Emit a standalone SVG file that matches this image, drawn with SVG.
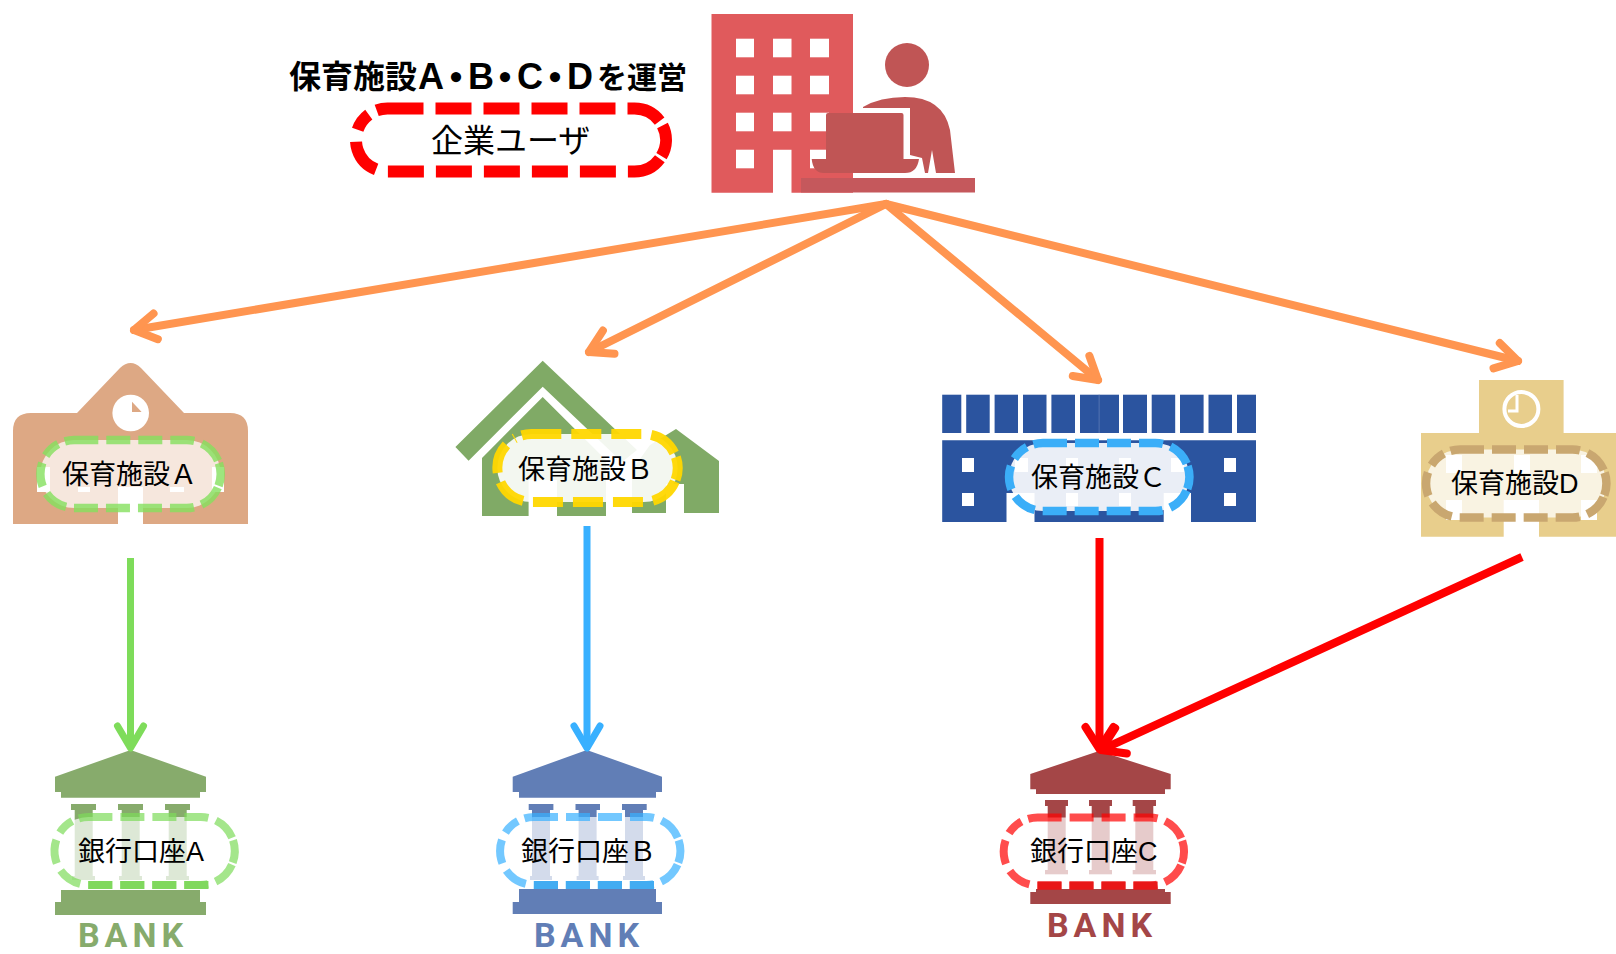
<svg xmlns="http://www.w3.org/2000/svg" width="1616" height="954" viewBox="0 0 1616 954">
<style>
text{font-family:"Liberation Sans","Noto Sans CJK JP",sans-serif;fill:#000}
.t{font-size:27px}
.u{font-size:32px}
.h{font-weight:700;font-size:32px}
.l{font-size:36px}
.d{font-size:24px;stroke:#000;stroke-width:4}
.bk{font-family:Roboto,"Liberation Sans",sans-serif;font-size:34px;font-weight:700;letter-spacing:5px;text-anchor:middle}
.pl{stroke-width:8.5;stroke-dasharray:24 8}
.w{fill:#fff}
.c{fill:none;stroke-linejoin:round}
.o{stroke:#FF9550;stroke-width:8;stroke-linecap:round}
.dk{fill:none;stroke-width:8;stroke-dasharray:24 8}
</style>
<defs>
<marker id="mo" markerUnits="userSpaceOnUse" markerWidth="50" markerHeight="50" viewBox="-35 -25 50 50" refX="0" refY="0" orient="auto"><path d="M-22,-13L0,0L-22,13" fill="none" stroke="#FF9550" stroke-width="8" stroke-linecap="round" stroke-linejoin="round"/></marker>
<marker id="mg" markerUnits="userSpaceOnUse" markerWidth="50" markerHeight="50" viewBox="-35 -25 50 50" refX="0" refY="0" orient="auto"><path d="M-22,-13L0,0L-22,13" fill="none" stroke="#7EDC5A" stroke-width="7" stroke-linecap="round" stroke-linejoin="round"/></marker>
<marker id="mb" markerUnits="userSpaceOnUse" markerWidth="50" markerHeight="50" viewBox="-35 -25 50 50" refX="0" refY="0" orient="auto"><path d="M-22,-13L0,0L-22,13" fill="none" stroke="#38B0FF" stroke-width="7" stroke-linecap="round" stroke-linejoin="round"/></marker>
<marker id="mr" markerUnits="userSpaceOnUse" markerWidth="50" markerHeight="50" viewBox="-35 -25 50 50" refX="0" refY="0" orient="auto"><path d="M-22,-14L0,0L-22,14" fill="none" stroke="#FF0000" stroke-width="8" stroke-linecap="round" stroke-linejoin="round"/></marker>
<g id="pill">
<rect width="180.4" height="68" rx="34" stroke="none"/>
<path fill="none" d="M34,0H146.4A34,34 0 0 1 177.75,20.85M178.64,23.2A34,34 0 0 1 178.3,45.7M177.55,47.6A34,34 0 0 1 146.4,68H34A34,34 0 0 1 17.9,4.1M24.5,1.35A34,34 0 0 1 34,0"/>
</g>
</defs>

<g id="user">
<path fill="#E05A5C" d="M711.5,14H853V192.7H791.5V149.7H773V192.7H711.5Z"/>
<g class="w">
<rect x="736" y="38.7" width="18" height="18.6"/><rect x="773" y="38.7" width="18.5" height="18.6"/><rect x="810" y="38.7" width="19" height="18.6"/>
<rect x="736" y="75.7" width="18" height="18.6"/><rect x="773" y="75.7" width="18.5" height="18.6"/><rect x="810" y="75.7" width="19" height="18.6"/>
<rect x="736" y="112.7" width="18" height="18.6"/><rect x="773" y="112.7" width="18.5" height="18.6"/><rect x="810" y="112.7" width="19" height="18.6"/>
<rect x="736" y="149.7" width="18" height="18.6"/><rect x="810" y="149.7" width="19" height="18.6"/>
</g>
<g fill="#C05555">
<ellipse cx="907" cy="65" rx="22" ry="22"/>
<path d="M863,107Q880,97 905,97Q943,97 950,130L955,173H936L932,150L928,173H925L922,158L910,155V108H863Z"/>
<path d="M828,113H901.5Q903.5,113 903.5,115V159H919Q917,173 905,173H824Q813,173 811.7,159H826V115Q826,113 828,113Z"/>
<rect x="801" y="178" width="174" height="14.5" fill="#C5585C"/>
</g>
<text class="h" y="88"><tspan x="289">保育施設</tspan><tspan class="l" x="418" y="89">A</tspan><tspan class="d" x="444" y="85.7">・</tspan><tspan class="l" x="468" y="89">B</tspan><tspan class="d" x="493" y="85.7">・</tspan><tspan class="l" x="517" y="89">C</tspan><tspan class="d" x="543" y="85.7">・</tspan><tspan class="l" x="567" y="89">D</tspan><tspan x="597" y="88" style="font-size:30px">を運営</tspan></text>
<path fill="none" stroke="#FF0000" stroke-width="12" stroke-dasharray="36 12" transform="translate(356,108.5)" d="M31.5,0H278.5A31.5,31.5 0 0 1 304.2,13.3M306.5,17.1A31.5,31.5 0 0 1 305.5,47.7M303.85,50.2A31.5,31.5 0 0 1 278.5,63H31.5A31.5,31.5 0 0 1 12.8,6.15M20.7,1.9A31.5,31.5 0 0 1 31.5,0"/>
<text class="u" x="431" y="152">企業ユーザ</text>
</g>

<g id="facility-a">
<path fill="#DDA884" d="M13,524V431Q13,413 31,413H77L120,368Q130.7,358 141,368L184,413H230Q248,413 248,431V524H143V487H118V524Z"/>
<circle class="w" cx="130.7" cy="413" r="18.3"/>
<path fill="#DDA884" d="M132,401.7L141.6,412H132Z"/>
<g class="w"><rect x="37" y="467" width="13" height="25"/><rect x="78" y="487" width="12" height="5"/><rect x="170" y="487" width="14" height="5"/><rect x="212" y="467" width="12" height="25"/></g>
<use href="#pill" class="pl" x="40.3" y="440" fill="#fff" fill-opacity=".72" stroke="#84E05E" stroke-opacity=".8"/>
<text class="t" x="62" y="484">保育施設Ａ</text>
</g>

<g id="facility-b">
<path fill="#80AA66" d="M542.7,360.7L637,450L622,462L542.7,386.7L468.6,460.7L455.4,447Z"/>
<path fill="#80AA66" d="M482,458L542.7,397L606,460V516H557V480H528.6V516H482Z"/>
<path fill="#80AA66" d="M676,429L719,461V513H684V484H666V513H632V470L650,445Z"/>
<use href="#pill" x="497.3" y="434" fill="#fff" fill-opacity=".9" stroke="#FFD700" stroke-opacity=".95" stroke-width="10" stroke-dasharray="30 10"/>
<text class="t" x="518" y="479">保育施設Ｂ</text>
</g>

<g id="facility-c">
<g fill="#2B549F">
<rect x="942.2" y="394.7" width="19.1" height="38.3"/><rect x="966.2" y="394.7" width="23.5" height="38.3"/><rect x="994.6" y="394.7" width="23.4" height="38.3"/><rect x="1023" y="394.7" width="23.5" height="38.3"/><rect x="1051.4" y="394.7" width="23.6" height="38.3"/><rect x="1080" y="394.7" width="39" height="38.3"/><rect x="1123" y="394.7" width="24" height="38.3"/><rect x="1151.7" y="394.7" width="23.5" height="38.3"/><rect x="1180" y="394.7" width="23.6" height="38.3"/><rect x="1208.5" y="394.7" width="23.5" height="38.3"/><rect x="1237" y="394.7" width="19" height="38.3"/>
<path d="M942.2,440.3H1256V522H1191V493H1163.7V522H1034.5V493H1006.5V522H942.2Z"/>
</g>
<rect x="1098.7" y="394.7" width=".8" height="38.3" fill="#5C7BB5"/>
<g class="w">
<rect x="962" y="458" width="12" height="14"/><rect x="962" y="493" width="12" height="13"/><rect x="1224" y="458" width="12" height="14"/><rect x="1224" y="493" width="12" height="13"/>
<rect x="1015" y="458" width="13" height="14"/><rect x="1066" y="458" width="12" height="14"/><rect x="1119" y="458" width="12" height="14"/><rect x="1171" y="458" width="13" height="14"/>
<rect x="1015" y="493" width="13" height="13"/><rect x="1066" y="493" width="12" height="13"/><rect x="1119" y="493" width="12" height="13"/><rect x="1171" y="493" width="13" height="13"/>
</g>
<use href="#pill" class="pl" x="1009" y="443" fill="#fff" fill-opacity=".9" stroke="#3BAEF8"/>
<text class="t" x="1031" y="487">保育施設Ｃ</text>
</g>

<g id="facility-d">
<path fill="#E8CE8C" d="M1479,380H1563.6V433H1616V536.7H1539V500H1503.7V536.7H1421V433H1479Z"/>
<circle cx="1521.4" cy="409" r="17" fill="none" stroke="#fff" stroke-width="4"/>
<path d="M1517,395V411H1508" fill="none" stroke="#fff" stroke-width="3"/>
<g class="w">
<rect x="1446" y="455" width="16" height="18"/><rect x="1514" y="455" width="16" height="18"/><rect x="1581" y="455" width="16" height="18"/>
<rect x="1446" y="500" width="16" height="20"/><rect x="1581" y="500" width="16" height="20"/>
</g>
<use href="#pill" class="pl" x="1426" y="449.5" fill="#fff" fill-opacity=".75" stroke="#C9A770"/>
<text class="t" x="1451" y="493">保育施設D</text>
</g>

<g id="bank-a" fill="#87AB6C">
<path d="M130.6,750L206,776.7V792H200V797.7H61V792H55V776.7Z"/>
<rect x="71" y="804" width="25" height="6"/><rect x="118" y="804" width="25" height="6"/><rect x="165" y="804" width="25" height="6"/>
<rect x="74.7" y="810" width="18" height="66"/><rect x="121.7" y="810" width="18" height="66"/><rect x="168.7" y="810" width="18" height="66"/>
<rect x="72" y="876" width="23" height="4"/><rect x="119" y="876" width="23" height="4"/><rect x="166" y="876" width="23" height="4"/>
<path d="M61,890H200V902H206V915H55V902H61Z"/>
<text class="bk" x="133" y="946.5" style="fill:#87AB6C">BANK</text>
<use href="#pill" class="pl" x="54.4" y="817" fill="#fff" fill-opacity=".72" stroke="#7EDC5A" stroke-opacity=".7" style="stroke-width:8"/>
<path class="dk" stroke="#80D85E" d="M88.4,885H208.4"/>
<text class="t" x="78" y="861">銀行口座A</text>
</g>

<g id="bank-b" fill="#617EB6">
<path d="M586.8,750L662,776.7V792H656V797.7H519V792H512.7V776.7Z"/>
<rect x="528.7" y="804" width="24.7" height="6"/><rect x="575.5" y="804" width="24.5" height="6"/><rect x="622" y="804" width="24.7" height="6"/>
<rect x="532" y="810" width="18" height="66"/><rect x="578.6" y="810" width="18" height="66"/><rect x="625" y="810" width="18" height="66"/>
<rect x="530" y="876" width="22" height="4"/><rect x="576.6" y="876" width="22" height="4"/><rect x="623" y="876" width="22" height="4"/>
<path d="M519,889H656V902H662V914H512.7V902H519Z"/>
<text class="bk" x="589" y="946.5" style="fill:#617EB6">BANK</text>
<use href="#pill" class="pl" x="500" y="817" fill="#fff" fill-opacity=".72" stroke="#38B0FF" stroke-opacity=".7" style="stroke-width:8"/>
<path class="dk" stroke="#42ACF2" d="M534,885H654"/>
<text class="t" x="521" y="861">銀行口座Ｂ</text>
</g>

<g id="bank-c" fill="#A44647">
<path d="M1099,751L1170.7,774V789.3H1165V794H1036V789.3H1030.3V774Z"/>
<rect x="1045" y="800" width="23" height="6"/><rect x="1089" y="800" width="23" height="6"/><rect x="1132.7" y="800" width="23.3" height="6"/>
<rect x="1047.7" y="806" width="18" height="64"/><rect x="1091.7" y="806" width="18" height="64"/><rect x="1135.3" y="806" width="18" height="64"/>
<rect x="1045" y="870" width="23" height="4.3"/><rect x="1089" y="870" width="23" height="4.3"/><rect x="1132.7" y="870" width="23.3" height="4.3"/>
<path d="M1036,889H1165V892H1170.7V904H1030.3V892H1036Z"/>
<text class="bk" x="1102" y="937" style="fill:#A44647">BANK</text>
<use href="#pill" class="pl" x="1003.6" y="817.5" fill="#fff" fill-opacity=".72" stroke="#FF0000" stroke-opacity=".7" style="stroke-width:8"/>
<path class="dk" stroke="#E81818" d="M1037.6,885.5H1157.6"/>
<text class="t" x="1030" y="861">銀行口座C</text>
</g>

<g id="connectors">
<path class="c o" marker-end="url(#mo)" d="M886,204L134,330"/>
<path class="c o" marker-end="url(#mo)" d="M886,204L589,352"/>
<path class="c o" marker-end="url(#mo)" d="M886,204L1098,380"/>
<path class="c o" marker-end="url(#mo)" d="M886,204L1518,361"/>
<path class="c" stroke="#7EDC5A" stroke-width="7" marker-end="url(#mg)" d="M130.5,558V748"/>
<path class="c" stroke="#38B0FF" stroke-width="7" marker-end="url(#mb)" d="M587,526V748"/>
<path class="c" stroke="#FF0000" stroke-width="8" marker-end="url(#mr)" d="M1099.5,538V749"/>
<path class="c" stroke="#FF0000" stroke-width="8" marker-end="url(#mr)" d="M1522,557L1101,750"/>
</g>
</svg>
